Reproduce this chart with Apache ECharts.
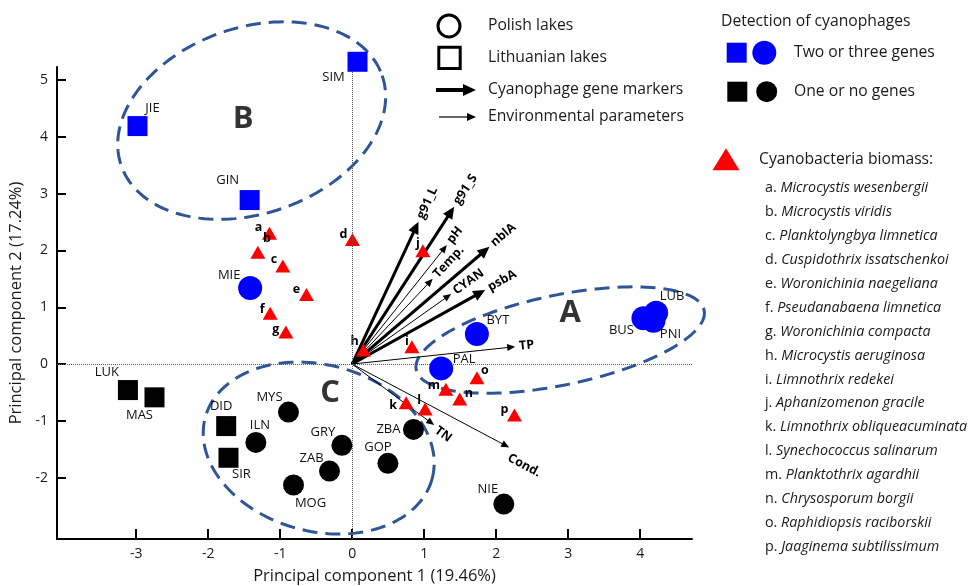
<!DOCTYPE html>
<html><head><meta charset="utf-8">
<script src="https://cdn.jsdelivr.net/npm/echarts@6/dist/echarts.min.js"></script>
<style>html,body{margin:0;padding:0;background:#fff}#c{width:969px;height:586px}</style>
</head><body><div id="c"></div>
<script>
// ---------- data ----------
const xTicks = [-3, -2, -1, 0, 1, 2, 3, 4];
const yTicks = [-2, -1, 0, 1, 2, 3, 4, 5];
// lakes: [name, PC1, PC2]
const blueSquares = [['SIM',0.074,5.322],['JIE',-2.982,4.190],['GIN',-1.424,2.887]];
const blueCircles = [['MIE',-1.417,1.338],['BYT',1.732,0.528],['PAL',1.236,-0.076],['BUS',4.046,0.805],['PNI',4.185,0.762],['LUB',4.222,0.903]];
const blackSquares = [['LUK',-3.115,-0.458],['MAS',-2.746,-0.586],['DID',-1.750,-1.092],['SIR',-1.718,-1.650]];
const blackCircles = [['MYS',-0.885,-0.845],['ILN',-1.338,-1.379],['GRY',-0.143,-1.431],['ZAB',-0.315,-1.884],['MOG',-0.815,-2.130],['GOP',0.496,-1.748],['ZBA',0.851,-1.150],['NIE',2.106,-2.465]];
// cyanobacteria taxa: [letter, PC1, PC2]
const taxa = [['a',-1.149,2.301],['b',-1.310,1.967],['c',-0.963,1.725],['d',0.004,2.195],['e',-0.635,1.224],['f',-1.139,0.893],['g',-0.921,0.563],['h',0.157,0.246],['i',0.829,0.305],['j',0.982,1.995],['k',0.750,-0.681],['l',1.014,-0.792],['m',1.301,-0.445],['n',1.494,-0.616],['o',1.733,-0.241],['p',2.254,-0.898]];
// arrows: [label, PC1 tip, PC2 tip]
const geneArrows = [['g91_L',0.921,2.505],['g91_S',1.417,2.769],['nblA',1.907,2.065],['psbA',1.847,1.303]];
const envArrows = [['pH',1.315,2.095],['Temp.',1.118,1.500],['CYAN',1.375,1.232],['TP',2.264,0.305],['TN',1.139,-1.074],['Cond.',2.181,-1.467]];
// cluster ellipses: [name, centre PC1, centre PC2, semi-major, semi-minor (PC1 units), tilt deg]
const ellipses = [['A',2.889,0.4225,2.042,0.625,11.7],['B',-1.396,4.287,1.917,1.292,19],['C',-0.465,-1.479,1.632,1.156,-15.1]];
const clusterLetters = [['A',3.028,0.898],['B',-1.514,4.313],['C',-0.306,-0.511]];
const speciesNames = [
 ['a','Microcystis wesenbergii'],['b','Microcystis viridis'],['c','Planktolyngbya limnetica'],['d','Cuspidothrix issatschenkoi'],
 ['e','Woronichinia naegeliana'],['f','Pseudanabaena limnetica'],['g','Woronichinia compacta'],['h','Microcystis aeruginosa'],
 ['i','Limnothrix redekei'],['j','Aphanizomenon gracile'],['k','Limnothrix obliqueacuminata'],['l','Synechococcus salinarum'],
 ['m','Planktothrix agardhii'],['n','Chrysosporum borgii'],['o','Raphidiopsis raciborskii'],['p','Jaaginema subtilissimum']];

// ---------- layout (label offsets in px) ----------
const lakeLabelOffset = {SIM:[-24,16],JIE:[15,-18],GIN:[-22,-20],MIE:[-21,-13],BYT:[21,-14],PAL:[23,-9],LUB:[16,-16],BUS:[-22,12],PNI:[17,14],
 LUK:[-21,-18],MAS:[-15,18],DID:[-5,-20],SIR:[13,17],MYS:[-19,-15],ILN:[4,-17],GRY:[-19,-13],ZAB:[-18,-13],MOG:[17,18],GOP:[-10,-16],ZBA:[-25,0],NIE:[-16,-15]};
const taxaLabelOffset = {a:[-11,-6],b:[9,-14],c:[-9,-7],d:[-9,-5],e:[-10,-5],f:[-8,-4],g:[-10,-3],h:[-9,-9],i:[-5,-5],j:[-5,-7],k:[-13,3],l:[-6,-9],m:[-12,-4],n:[9,-6],o:[8,-7],p:[-10,-6]};
const arrowLabelShift = {'Cond.':[0,9],'TN':[0,2]};

const FONT = '"Open Sans", sans-serif';
const LEG = 15.7;
const chart = echarts.init(document.getElementById('c'), null, {renderer:'canvas'});

function lakePts(arr){return arr.map(d=>({name:d[0],value:[d[1],d[2]],label:{offset:lakeLabelOffset[d[0]]||[0,0]}}));}
function taxaPts(arr){return arr.map(d=>({name:d[0],value:[d[1],d[2]],label:{offset:taxaLabelOffset[d[0]]||[0,0]}}));}
const lakeLabel = {show:true,position:'inside',formatter:'{b}',color:'#111',fontSize:13,fontFamily:FONT};

function arrowSeries(arr, thick){
  return {type:'custom', z:3, clip:false, encode:{x:0,y:1},
    data: arr.map(d=>[d[1],d[2]]),
    renderItem(params, api){
      const o = api.coord([0,0]);
      const t = api.coord([api.value(0), api.value(1)]);
      const name = arr[params.dataIndex][0];
      const dx=t[0]-o[0], dy=t[1]-o[1], L=Math.hypot(dx,dy), ux=dx/L, uy=dy/L;
      const hl = thick?12:8, hw = thick?5.5:3.5;
      const bx=t[0]-ux*hl, by=t[1]-uy*hl;
      const head=[[t[0],t[1]],[bx-uy*hw,by+ux*hw],[bx+uy*hw,by-ux*hw]];
      const ang=Math.atan2(-dy,dx);
      const sh = arrowLabelShift[name]||[0,0];
      return {type:'group',children:[
        {type:'line',shape:{x1:o[0],y1:o[1],x2:bx+ux*2,y2:by+uy*2},style:{stroke:'#000',lineWidth:thick?3:1}},
        {type:'polygon',shape:{points:head},style:{fill:'#000'}},
        {type:'text',x:t[0]+ux*4,y:t[1]+uy*4,rotation:ang,
          style:{text:name,x:sh[0],y:sh[1],align:'left',verticalAlign:'middle',fontSize:12.5,fontWeight:'bold',fontFamily:FONT,fill:'#000'}}
      ]};
    }};
}

const graphics = [];
// top-centre legend
graphics.push({type:'circle',shape:{cx:449,cy:26,r:11},style:{fill:'none',stroke:'#000',lineWidth:3}});
graphics.push({type:'rect',shape:{x:438.8,y:47.2,width:21.4,height:21.4},style:{fill:'none',stroke:'#000',lineWidth:3}});
graphics.push({type:'line',shape:{x1:436,y1:90,x2:466,y2:90},style:{stroke:'#000',lineWidth:4}});
graphics.push({type:'polygon',shape:{points:[[476,90],[463,84],[463,96]]},style:{fill:'#000'}});
graphics.push({type:'line',shape:{x1:439,y1:117,x2:470,y2:117},style:{stroke:'#000',lineWidth:1.2}});
graphics.push({type:'polygon',shape:{points:[[476,117],[467,113],[467,121]]},style:{fill:'#000'}});
[['Polish lakes',26],['Lithuanian lakes',58],['Cyanophage gene markers',90],['Environmental parameters',117]].forEach(d=>{
  graphics.push({type:'text',x:488,y:d[1],style:{text:d[0],fontSize:LEG,fontFamily:FONT,fill:'#1a1a1a',verticalAlign:'middle',align:'left'}});
});
// right legend
graphics.push({type:'text',x:721,y:22,style:{text:'Detection of cyanophages',fontSize:LEG,fontFamily:FONT,fill:'#1a1a1a',verticalAlign:'middle'}});
graphics.push({type:'rect',shape:{x:726.7,y:42.7,width:20,height:20},style:{fill:'#0000FF'}});
graphics.push({type:'circle',shape:{cx:764.3,cy:52.7,r:12},style:{fill:'#0000FF'}});
graphics.push({type:'text',x:794,y:53,style:{text:'Two or three genes',fontSize:LEG,fontFamily:FONT,fill:'#1a1a1a',verticalAlign:'middle'}});
graphics.push({type:'rect',shape:{x:727.3,y:81.7,width:20,height:20},style:{fill:'#000'}});
graphics.push({type:'circle',shape:{cx:766.7,cy:91.7,r:10.5},style:{fill:'#000'}});
graphics.push({type:'text',x:794,y:92,style:{text:'One or no genes',fontSize:LEG,fontFamily:FONT,fill:'#1a1a1a',verticalAlign:'middle'}});
graphics.push({type:'polygon',shape:{points:[[726,148.3],[739.5,170.3],[712.5,170.3]]},style:{fill:'#FF0000'}});
graphics.push({type:'text',x:759,y:160,style:{text:'Cyanobacteria biomass:',fontSize:LEG,fontFamily:FONT,fill:'#1a1a1a',verticalAlign:'middle'}});
speciesNames.forEach((s,i)=>{
  graphics.push({type:'text',x:765,y:188.3+i*23.9,style:{
    text:'{p|'+s[0]+'. }{i|'+s[1]+'}',verticalAlign:'middle',
    rich:{p:{fontSize:14.3,fontFamily:FONT,fill:'#1a1a1a'},i:{fontSize:14.3,fontFamily:FONT,fontStyle:'italic',fill:'#1a1a1a'}}}});
});

const option = {
  animation:false,
  backgroundColor:'#fff',
  grid:{left:57,right:277,top:67,bottom:47,containLabel:false,outerBoundsMode:'none'},
  xAxis:{type:'value',min:-4.1,max:4.72,
    axisLine:{onZero:false,lineStyle:{color:'#000',width:2}},
    axisTick:{inside:true,length:10,lineStyle:{color:'#000',width:2},customValues:xTicks},
    axisLabel:{customValues:xTicks,color:'#1a1a1a',fontSize:14,fontFamily:FONT,margin:8},
    splitLine:{show:false},
    name:'Principal component 1 (19.46%)',nameLocation:'middle',nameGap:29,
    nameTextStyle:{fontSize:16.5,color:'#1a1a1a',fontFamily:FONT}},
  yAxis:{type:'value',min:-3.08,max:5.23,
    axisLine:{onZero:false,lineStyle:{color:'#000',width:2}},
    axisTick:{inside:true,length:9,lineStyle:{color:'#000',width:2},customValues:yTicks},
    axisLabel:{customValues:yTicks,color:'#1a1a1a',fontSize:14,fontFamily:FONT,margin:9},
    splitLine:{show:false},
    name:'Principal component 2 (17.24%)',nameLocation:'middle',nameGap:28,
    nameTextStyle:{fontSize:16.5,color:'#1a1a1a',fontFamily:FONT}},
  graphic:graphics,
  series:[
    {type:'custom',z:1,clip:false,encode:{x:1,y:2},
      data:ellipses.map(e=>[e[1],e[2],e[1],e[2],e[3],e[4],e[5]]),
      renderItem(params, api){
        const c=api.coord([api.value(0),api.value(1)]);
        const s=api.size([1,1]);
        const a=api.value(4)*s[0], b=api.value(5)*s[0], th=api.value(6)*Math.PI/180;
        const pts=[];
        for(let k=0;k<=160;k++){const t=k/160*2*Math.PI;const ex=a*Math.cos(t),ey=b*Math.sin(t);
          pts.push([c[0]+ex*Math.cos(th)+ey*Math.sin(th), c[1]-ex*Math.sin(th)+ey*Math.cos(th)]);}
        return {type:'polygon',shape:{points:pts},style:{fill:'none',stroke:'#2F5597',lineWidth:3,lineDash:[15,8]}};
      },
      markLine:{silent:true,symbol:'none',label:{show:false},lineStyle:{type:'dotted',color:'#555',width:1},
        data:[{xAxis:0},{yAxis:0}]}
    },
    {type:'scatter',z:2,symbolSize:0,data:clusterLetters.map(d=>({name:d[0],value:[d[1],d[2]]})),
      label:{show:true,position:'inside',formatter:'{b}',fontSize:31,fontWeight:'bold',color:'#000',fontFamily:FONT}},
    arrowSeries(envArrows,false),
    arrowSeries(geneArrows,true),
    {type:'scatter',z:4,clip:false,symbol:'triangle',symbolSize:[15,13],itemStyle:{color:'#FF0000',opacity:1},data:taxaPts(taxa),
      label:{show:true,position:'inside',formatter:'{b}',color:'#000',fontSize:12.5,fontWeight:'bold',fontFamily:FONT}},
    {type:'scatter',z:5,clip:false,symbol:'rect',symbolSize:20,itemStyle:{color:'#0000FF',opacity:1},data:lakePts(blueSquares),label:lakeLabel},
    {type:'scatter',z:5,clip:false,symbol:'circle',symbolSize:24,itemStyle:{color:'#0000FF',opacity:1},data:lakePts(blueCircles),label:lakeLabel},
    {type:'scatter',z:5,clip:false,symbol:'rect',symbolSize:20,itemStyle:{color:'#000',opacity:1},data:lakePts(blackSquares),label:lakeLabel},
    {type:'scatter',z:5,clip:false,symbol:'circle',symbolSize:21,itemStyle:{color:'#000',opacity:1},data:lakePts(blackCircles),label:lakeLabel}
  ]
};
chart.setOption(option);
</script></body></html>
